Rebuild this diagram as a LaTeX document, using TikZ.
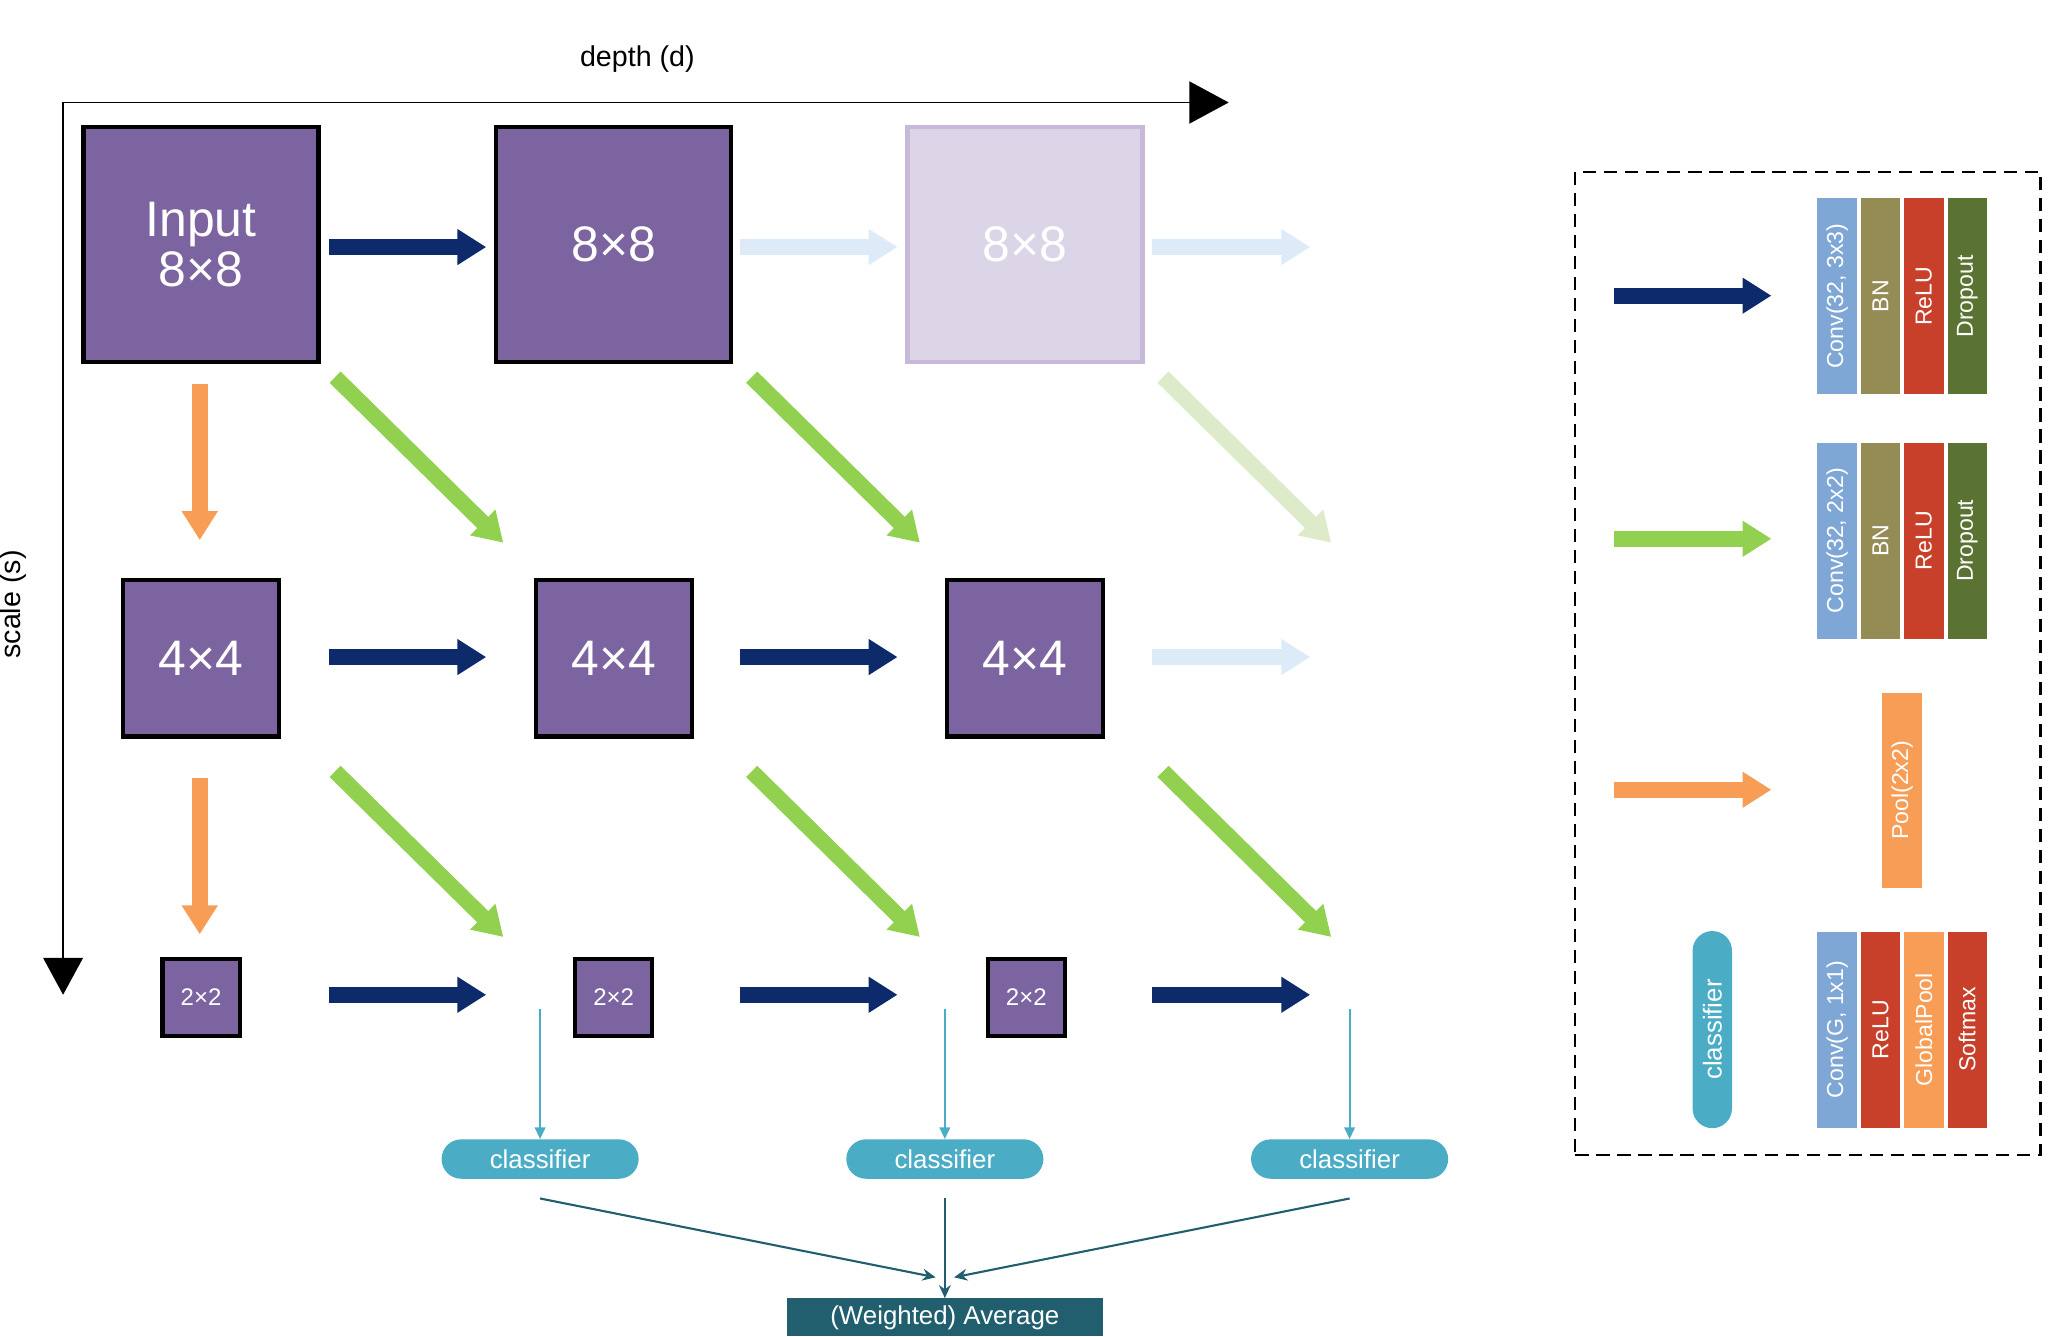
\documentclass[tikz,border=0pt]{standalone}
\usepackage{fontspec}
\setmainfont{Liberation Sans}
\usetikzlibrary{arrows.meta}
\definecolor{purp}{HTML}{7B64A0}
\definecolor{fpurp}{HTML}{DCD4E7}
\definecolor{fpurpb}{HTML}{C8B9DB}
\definecolor{dblue}{HTML}{0D2A6B}
\definecolor{fblue}{HTML}{DDEBF9}
\definecolor{orng}{HTML}{F79D56}
\definecolor{grn}{HTML}{92D050}
\definecolor{fgrn}{HTML}{DEEBCB}
\definecolor{cyn}{HTML}{4BACC6}
\definecolor{teal}{HTML}{215F6E}
\definecolor{lblue}{HTML}{7FA7D6}
\definecolor{khaki}{HTML}{958B55}
\definecolor{rred}{HTML}{C9402A}
\definecolor{dgrn}{HTML}{5A7332}
\newcommand{\fs}[1]{\fontsize{#1pt}{#1pt}\selectfont}
\begin{document}
\begin{tikzpicture}[x=0.05cm,y=-0.05cm,
 box/.style={draw=black,line width=0.16cm,fill=purp,text=white,inner sep=0},
 fat/.style={line width=0.6cm,-{Triangle[length=1.1cm,width=1.3cm]}},
 leg/.style={minimum width=7.45cm,minimum height=1.5cm,inner sep=0,text=white,rotate=90,font=\fs{25}},
 pill/.style={fill=cyn,text=white,rounded corners=0.75cm,minimum width=7.5cm,minimum height=1.5cm,inner sep=0,font=\fs{28}}]
\useasboundingbox (0,0) rectangle (1560,1017);
% axes
\coordinate (o) at (48,78); \coordinate (dx) at (935,78); \coordinate (sy) at (48,757);
\draw[line width=0.075cm,-{Triangle[length=1.5cm,width=1.6cm]}] (o)--(dx);
\draw[line width=0.075cm,-{Triangle[length=1.4cm,width=1.5cm]}] (o)--(sy);
\node[font=\fs{31}] (dl) at (485,45) {depth (d)};
\node[font=\fs{31},rotate=90] (sl) at (10,460) {scale (s)};
% boxes
\node[box,minimum size=8.94cm,font=\fs{54},align=center] (a1) at (153,186) {Input\\8×8};
\node[box,minimum size=8.94cm,font=\fs{54}] (a2) at (467,186) {8×8};
\node[box,minimum size=8.94cm,font=\fs{54},fill=fpurp,draw=fpurpb] (a3) at (780,186) {8×8};
\foreach \x/\n in {153/1,467/2,780/3}
  \node[box,minimum size=5.94cm,font=\fs{54}] (b\n) at (\x,501) {4×4};
\foreach \x/\n in {153/1,467/2,781/3}
  \node[box,minimum size=2.94cm,font=\fs{26}] (c\n) at (\x,759) {2×2};
% horizontal arrows
\foreach \y/\r in {188/r,500/s,757/t}{
  \foreach \x/\n in {250/1,563/2,877/3}{
    \coordinate (\r\n s) at (\x,\y); \coordinate (\r\n e) at (\x+120,\y);}}
\draw[fat,dblue] (r1s)--(r1e);
\draw[fat,fblue] (r2s)--(r2e); \draw[fat,fblue] (r3s)--(r3e);
\draw[fat,dblue] (s1s)--(s1e); \draw[fat,dblue] (s2s)--(s2e);
\draw[fat,fblue] (s3s)--(s3e);
\draw[fat,dblue] (t1s)--(t1e); \draw[fat,dblue] (t2s)--(t2e); \draw[fat,dblue] (t3s)--(t3e);
% orange
\coordinate (o1s) at (152,292); \coordinate (o1e) at (152,411);
\coordinate (o2s) at (152,592); \coordinate (o2e) at (152,711);
\draw[fat,orng] (o1s)--(o1e); \draw[fat,orng] (o2s)--(o2e);
% green
\foreach \x/\n in {255/1,572/2,885/3}{
  \coordinate (g\n s) at (\x,287); \coordinate (g\n e) at (\x+128,413);
  \coordinate (h\n s) at (\x,587); \coordinate (h\n e) at (\x+128,713);}
\draw[fat,grn] (g1s)--(g1e); \draw[fat,grn] (g2s)--(g2e); \draw[fat,fgrn] (g3s)--(g3e);
\draw[fat,grn] (h1s)--(h1e); \draw[fat,grn] (h2s)--(h2e); \draw[fat,grn] (h3s)--(h3e);
% classifiers
\foreach \x/\n in {411/1,719/2,1027/3}{
  \coordinate (k\n) at (\x,768);
  \node[pill] (p\n) at (\x,882) {classifier};
  \draw[cyn,line width=0.08cm,-{Triangle[length=0.45cm,width=0.4cm]}] (k\n)--(p\n.north);}
\node[fill=teal,text=white,minimum width=12cm,minimum height=1.45cm,inner sep=0,font=\fs{28}] (avg) at (719,1002.5) {(Weighted) Average};
\coordinate (m1) at (712,972); \coordinate (m3) at (726,972);
\coordinate (n1) at (411,912); \coordinate (n2) at (719,912); \coordinate (n3) at (1027,912);
\draw[teal,line width=0.08cm,-{Stealth[length=0.5cm,width=0.45cm]}] (n1)--(m1);
\draw[teal,line width=0.08cm,-{Stealth[length=0.5cm,width=0.45cm]}] (n2)--(avg.north);
\draw[teal,line width=0.08cm,-{Stealth[length=0.5cm,width=0.45cm]}] (n3)--(m3);
% legend
\node[draw,dash pattern=on 0.5cm off 0.3cm,line width=0.08cm,minimum width=17.7cm,minimum height=37.4cm,inner sep=0,anchor=north west] (L) at (1198,130) {};
\foreach \y/\c/\n in {225/dblue/1,410/grn/2,601/orng/3}{
  \coordinate (l\n s) at (1228,\y); \coordinate (l\n e) at (1348,\y);
  \draw[fat,\c] (l\n s)--(l\n e);}
\node[leg,fill=lblue] (q1) at (1398,225.5) {Conv(32, 3x3)};
\node[leg,fill=khaki] (q2) at (1431,225.5) {BN};
\node[leg,fill=rred] (q3) at (1464,225.5) {ReLU};
\node[leg,fill=dgrn] (q4) at (1497,225.5) {Dropout};
\node[leg,fill=lblue] (w1) at (1398,411.5) {Conv(32, 2x2)};
\node[leg,fill=khaki] (w2) at (1431,411.5) {BN};
\node[leg,fill=rred] (w3) at (1464,411.5) {ReLU};
\node[leg,fill=dgrn] (w4) at (1497,411.5) {Dropout};
\node[leg,fill=orng] (pp) at (1447.5,601.5) {Pool(2x2)};
\node[leg,fill=lblue] (e1) at (1398,783.5) {Conv(G, 1x1)};
\node[leg,fill=rred] (e2) at (1431,783.5) {ReLU};
\node[leg,fill=orng] (e3) at (1464,783.5) {GlobalPool};
\node[leg,fill=rred] (e4) at (1497,783.5) {Softmax};
\node[pill,rotate=90] (pc) at (1303,783.5) {classifier};
\end{tikzpicture}
\end{document}
